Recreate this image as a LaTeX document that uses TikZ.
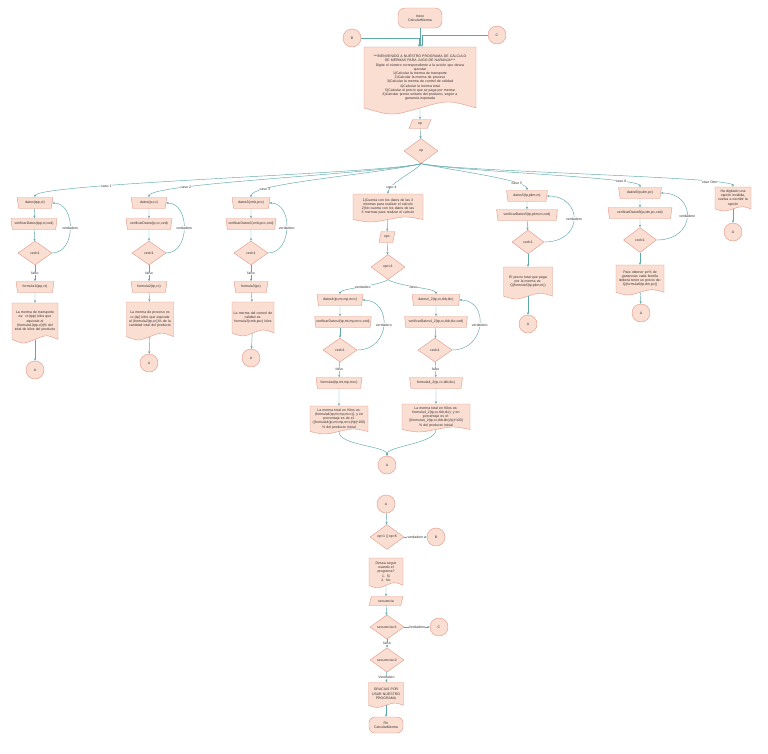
\documentclass[tikz,border=0pt]{standalone}
\usepackage{fontspec}
\setmainfont{Liberation Sans}
\usetikzlibrary{shapes.geometric,arrows.meta}
\definecolor{fillc}{RGB}{251,222,210}
\definecolor{bordc}{RGB}{226,150,135}
\definecolor{edgec}{RGB}{95,168,170}
\definecolor{textc}{RGB}{50,50,50}
\newcommand\dfs{\fontsize{3.5}{4.2}\selectfont}
\newcommand\docnode[6]{%
 \pgfmathsetmacro\dochh{0.91*#5}%
 \pgfmathsetmacro\docww{#4+8}%
 \path[docshape] (#2-#4/2,#3-#5/2) -- (#2+#4/2,#3-#5/2) -- (#2+#4/2,#3+#5/2-0.09*#5) .. controls (#2+#4/4,#3+#5/2-0.21*#5) .. (#2,#3+#5/2-0.09*#5) .. controls (#2-#4/4,#3+#5/2+0.03*#5) .. (#2-#4/2,#3+#5/2-0.09*#5) -- cycle;
 \node[doctext, minimum width=#4pt, minimum height=\dochh pt, text width=\docww pt] (#1) at (#2,#3-0.045*#5) {#6};}
\begin{document}
\begin{tikzpicture}[x=1pt,y=-1pt,
 base/.style={draw=bordc, fill=fillc, line width=0.4pt, font=\dfs, text=textc, inner sep=0.5pt, align=center},
 term/.style={base, rectangle, rounded corners=7pt},
 conn/.style={base, circle, minimum size=18pt},
 dec/.style={base, diamond, minimum width=34pt, minimum height=25pt},
 manual/.style={base, trapezium, trapezium angle=75, shape border rotate=180, trapezium stretches=true, minimum height=11pt},
 io/.style={base, trapezium, trapezium left angle=70, trapezium right angle=110, trapezium stretches=true, minimum height=9pt},
 docshape/.style={draw=bordc, fill=fillc, line width=0.4pt},
 doctext/.style={draw=none, fill=none, font=\dfs, text=textc, inner sep=0.5pt, align=center},
 flow/.style={draw=edgec, line width=0.45pt, -{Stealth[length=2.6pt,width=2.2pt]}},
 lbl/.style={font=\dfs, fill=white, text=textc, inner sep=0.3pt}]
\useasboundingbox (0,0) rectangle (768,753);
\fill[white] (0,0) rectangle (768,753);

% ---------- top ----------
\node[term, minimum width=44pt, minimum height=20pt] (start) at (420,18) {Inicio\\CalcularMerma};
\node[conn] (B) at (352,38) {B};
\node[conn] (C) at (497,35) {C};
\docnode{doc1}{420}{80.5}{112}{67}{***BIENVENIDO A NUESTRO PROGRAMA DE CÁLCULO\\DE MERMAS PARA JUGO DE NARANJA***\\Digite el número correspondiente a la acción que desea\\ejecutar\\1)Calcular la merma de transporte\\2)Calcular la merma de proceso\\3)Calcular la merma de control de calidad\\4)Calcular la merma total\\5)Calcular el precio que se paga por merma\\6)Calcular precio unitario del producto, según a\\ganancia esperada}
\node[io, minimum width=22pt] (op) at (420,124) {op};
\node[dec] (opd) at (421,151) {op};

% ---------- case 1 ----------
\node[manual, minimum width=36pt] (d1) at (35,203) {datos(tpp,ct)};
\node[manual, minimum width=46pt] (v1) at (34,224) {verificarDatos(tpp,ct,ced)};
\node[dec, minimum height=24pt] (c1) at (35,253) {ced=1};
\node[manual, minimum width=38pt] (f1) at (35,287) {formula1(tpp,ct)};
\docnode{r1}{35}{323}{46}{40}{La merma de transporte\\es: ct-(tpp) kilos que\\equivale al\\(formula1(tpp,ct))\% del\\total de kilos del producto}
\node[conn] (A1) at (35,370) {A};

% ---------- case 2 ----------
\node[manual, minimum width=36pt] (d2) at (149,203) {datos(tp,cc)};
\node[manual, minimum width=46pt] (v2) at (149,224) {verificarDatos(tp,cc,ced)};
\node[dec, minimum height=24pt] (c2) at (149,253) {ced=1};
\node[manual, minimum width=36pt] (f2) at (149,287) {formula2(tp,cc)};
\docnode{r2}{150}{321}{47}{38}{La merma de proceso es\\cc-(tp) kilos que equivale\\al (formula2(tp,cc))\% de la\\cantidad total del producto}
\node[conn] (A2) at (149,363) {A};

% ---------- case 3 ----------
\node[manual, minimum width=38pt] (d3) at (251,203) {datos3(cmb,pcc)};
\node[manual, minimum width=50pt] (v3) at (251,224) {verificarDatos3(cmb,pcc,ced)};
\node[dec, minimum height=24pt] (c3) at (251,253) {ced=1};
\node[manual, minimum width=34pt] (f3) at (251,287) {formula3(pc)};
\docnode{r3}{253}{319}{42}{34}{La merma del control de\\calidad es:\\formula3(cmb,pcc) kilos}
\node[conn] (A3) at (251,358) {A};

% ---------- case 4 ----------
\docnode{r4a}{388}{208}{70}{28}{1)Cuenta con los datos de las 3\\mermas para realizar el calculo\\2)No cuenta con los datos de las\\3 mermas para realizar el calculo}
\node[io, minimum width=16pt, minimum height=11pt] (opc) at (387,237) {opc};
\node[dec] (c4) at (388,267) {opc=1};
\node[manual, minimum width=46pt] (d4) at (340,300) {datos4(tp,mt,mp,mcc)};
\node[manual, minimum width=56pt] (v4) at (343,322) {verificarDatos4(tp,mt,mp,mcc,ced)};
\node[dec, minimum height=24pt] (c4a) at (340,350) {ced=1};
\node[manual, minimum width=46pt] (f4) at (339,383) {formula4(tp,mt,mp,mcc)};
\docnode{r4b}{339}{420}{58}{28}{La merma total en Kilos es:\\(formula4(tp,mt,mp,mcc)), y en\\porcentaje es de el:\\((formula4(tp,mt,mp,mcc)/tp)*100)\\\% del producto inicial}
\node[manual, minimum width=48pt] (d42) at (436,300) {datos4\_2(tp,cc,tkb,tkc)};
\node[manual, minimum width=63pt] (v42) at (436,322) {verificarDatos4\_2(tp,cc,tkb,tkc,ced)};
\node[dec, minimum height=24pt] (c4b) at (435,350) {ced=1};
\node[manual, minimum width=53pt] (f42) at (436,383) {formula4\_2(tp,cc,tkb,tkc)};
\docnode{r4c}{436}{418}{68}{28}{La merma total en Kilos es:\\formula4\_2(tp,cc,tkb,tkc), y en\\porcentaje es el:\\((formula4\_2(tp,cc,tkb,tkc)/tp)*100)\\\% del producto inicial}
\node[conn] (A4) at (387,465) {A};

% ---------- case 5 ----------
\node[manual, minimum width=41pt] (d5) at (527,196) {datos5(tp,pkm,m)};
\node[manual, minimum width=61pt] (v5) at (527,215) {verificarDatos5(tp,pkm,m,ced)};
\node[dec, minimum width=32pt, minimum height=24pt] (c5) at (528,242) {ced=1};
\docnode{r5}{528}{283}{49}{32}{El precio total que paga\\por la merma es:\\Q(formula5(tp,pkm,m))}
\node[conn] (A5) at (528,324) {A};

% ---------- case 6 ----------
\node[manual, minimum width=43pt] (d6) at (640,193) {datos6(tp,dm,pc)};
\node[manual, minimum width=64pt] (v6) at (640,213) {verificarDatos6(tp,dm,pc,ced)};
\node[dec, minimum width=33pt] (c6) at (640,240) {ced=1};
\docnode{r6}{640}{280}{48}{30}{Para obtener pc\% de\\ganancias cada botella\\deberá tener un precio de:\\Q(formula6(tp,dm,pc))}
\node[conn] (A6) at (641,313) {A};

% ---------- case otro ----------
\docnode{r7}{733}{199}{36}{24}{Ha digitado una\\opción inválida,\\vuelva a escribir la\\opción}
\node[conn] (A7) at (733,232) {A};

% ---------- bottom ----------
\node[conn] (A8) at (386,504) {A};
\node[dec, minimum height=24pt] (opx) at (387,537) {op<1 || op>6};
\node[conn] (B2) at (436,537) {B};
\docnode{r8}{386}{573}{34}{30}{Desea seguir\\usando el\\programa?\\1. Si\\2. No}
\node[io, minimum width=34pt] (sec) at (386,601) {secuencia};
\node[dec, minimum height=24pt] (s1) at (387,627) {secuencia=1};
\node[conn] (C2) at (439,627) {C};
\node[dec, minimum height=24pt] (s2) at (387,660) {secuencia=2};
\docnode{r9}{386}{695}{35}{25}{GRACIAS POR\\USAR NUESTRO\\PROGRAMA}
\node[term, minimum width=34pt, minimum height=16pt, rounded corners=6pt] (fin) at (386,725) {Fin\\CalcularMerma};

% ---------- connectors: top ----------
\draw[flow] (start) -- (doc1);
\draw[flow] (B) -| ([xshift=-1pt]doc1.north);
\draw[flow] (C) -| ([xshift=2pt]doc1.north);
\draw[flow] (doc1) -- (op);
\draw[flow] (op) -- (opd);

% branches
\draw[flow] (opd.south) .. controls +(-40,10) and +(0,-14) .. (d1.north) node[lbl,pos=0.71] (k1) {caso 1};
\draw[flow] (opd.south) .. controls +(-40,10) and +(0,-14) .. (d2.north) node[lbl,pos=0.75] (k2) {caso 2};
\draw[flow] (opd.south) .. controls +(-40,10) and +(0,-14) .. (d3.north) node[lbl,pos=0.8] (k3) {caso 3};
\draw[flow] (opd.south) .. controls +(-6,8) and +(0,-10) .. (r4a.north) node[lbl,pos=0.78] (k4) {caso 4};
\draw[flow] (opd.south) .. controls +(40,8) and +(0,-10) .. (d5.north) node[lbl,pos=0.76] (k5) {caso 5};
\draw[flow] (opd.south) .. controls +(40,8) and +(0,-10) .. (d6.north) node[lbl,pos=0.8] (k6) {caso 6};
\draw[flow] (opd.south) .. controls +(40,8) and +(0,-10) .. (r7.north) node[lbl,pos=0.82] (k7) {caso Otro};

% case 1
\draw[flow] (d1) -- (v1);
\draw[flow] (v1) -- (c1);
\draw[flow] (c1.east) .. controls +(24,0) and +(24,0) .. (d1.east) node[lbl,pos=0.5] (t1) {verdadero};
\draw[flow] (c1) -- (f1) node[lbl,midway] (n1) {falso};
\draw[flow] (f1) -- (r1);
\draw[flow] (r1) -- (A1);
% case 2
\draw[flow] (d2) -- (v2);
\draw[flow] (v2) -- (c2);
\draw[flow] (c2.east) .. controls +(24,0) and +(24,0) .. (d2.east) node[lbl,pos=0.5] (t2) {verdadero};
\draw[flow] (c2) -- (f2) node[lbl,midway] (n2) {falso};
\draw[flow] (f2) -- (r2);
\draw[flow] (r2) -- (A2);
% case 3
\draw[flow] (d3) -- (v3);
\draw[flow] (v3) -- (c3);
\draw[flow] (c3.east) .. controls +(24,0) and +(24,0) .. (d3.east) node[lbl,pos=0.5] (t3) {verdadero};
\draw[flow] (c3) -- (f3) node[lbl,midway] (n3) {falso};
\draw[flow] (f3) -- (r3);
\draw[flow] (r3) -- (A3);
% case 4
\draw[flow] (r4a) -- (opc);
\draw[flow] (opc) -- (c4);
\draw[flow] (c4.south) .. controls +(-12,7) and +(0,-6) .. (d4.north) node[lbl,pos=0.45] (t4) {verdadero};
\draw[flow] (c4.south) .. controls +(12,7) and +(0,-6) .. (d42.north) node[lbl,pos=0.45] (n4) {falso};
\draw[flow] (d4) -- (v4.north -| d4);
\draw[flow] (v4.south -| c4a) -- (c4a);
\draw[flow] (c4a.east) .. controls +(34,0) and +(30,0) .. (d4.east) node[lbl,pos=0.5] (t4a) {verdadero};
\draw[flow] (c4a) -- (f4) node[lbl,midway] (n4a) {falso};
\draw[flow] (f4) -- (r4b);
\draw[flow] (d42) -- (v42);
\draw[flow] (v42) -- (c4b);
\draw[flow] (c4b.east) .. controls +(34,0) and +(30,0) .. (d42.east) node[lbl,pos=0.5] (t4b) {verdadero};
\draw[flow] (c4b) -- (f42) node[lbl,midway] (n4b) {falso};
\draw[flow] (f42) -- (r4c);
\draw[flow] (r4b.south) .. controls +(0,14) and +(0,-10) .. (A4.north);
\draw[flow] (r4c.south) .. controls +(0,14) and +(0,-10) .. (A4.north);
% case 5
\draw[flow] (d5) -- (v5);
\draw[flow] (v5) -- (c5);
\draw[flow] (c5.east) .. controls +(40,0) and +(36,0) .. (d5.east) node[lbl,pos=0.5] (t5) {verdadero};
\draw[flow] (c5) -- (r5);
\draw[flow] (r5) -- (A5);
% case 6
\draw[flow] (d6) -- (v6);
\draw[flow] (v6) -- (c6);
\draw[flow] (c6.east) .. controls +(40,0) and +(36,0) .. (d6.east) node[lbl,pos=0.5] (t6) {verdadero};
\draw[flow] (c6) -- (r6);
\draw[flow] (r6) -- (A6);
% case otro
\draw[flow] (r7) -- (A7);

% bottom
\draw[flow] (A8) -- (opx);
\draw[flow] (opx) -- (B2) node[lbl,midway] (t8) {verdadero};
\draw[flow] (r8) -- (sec);
\draw[flow] (sec) -- (s1);
\draw[flow] (s1) -- (C2) node[lbl,midway] (t9) {Verdadero};
\draw[flow] (s1) -- (s2) node[lbl,midway] (n9) {falso};
\draw[flow] (s2) -- (r9) node[lbl,midway] (t10) {Verdadero};
\draw[flow] (r9) -- (fin);
\end{tikzpicture}
\end{document}
